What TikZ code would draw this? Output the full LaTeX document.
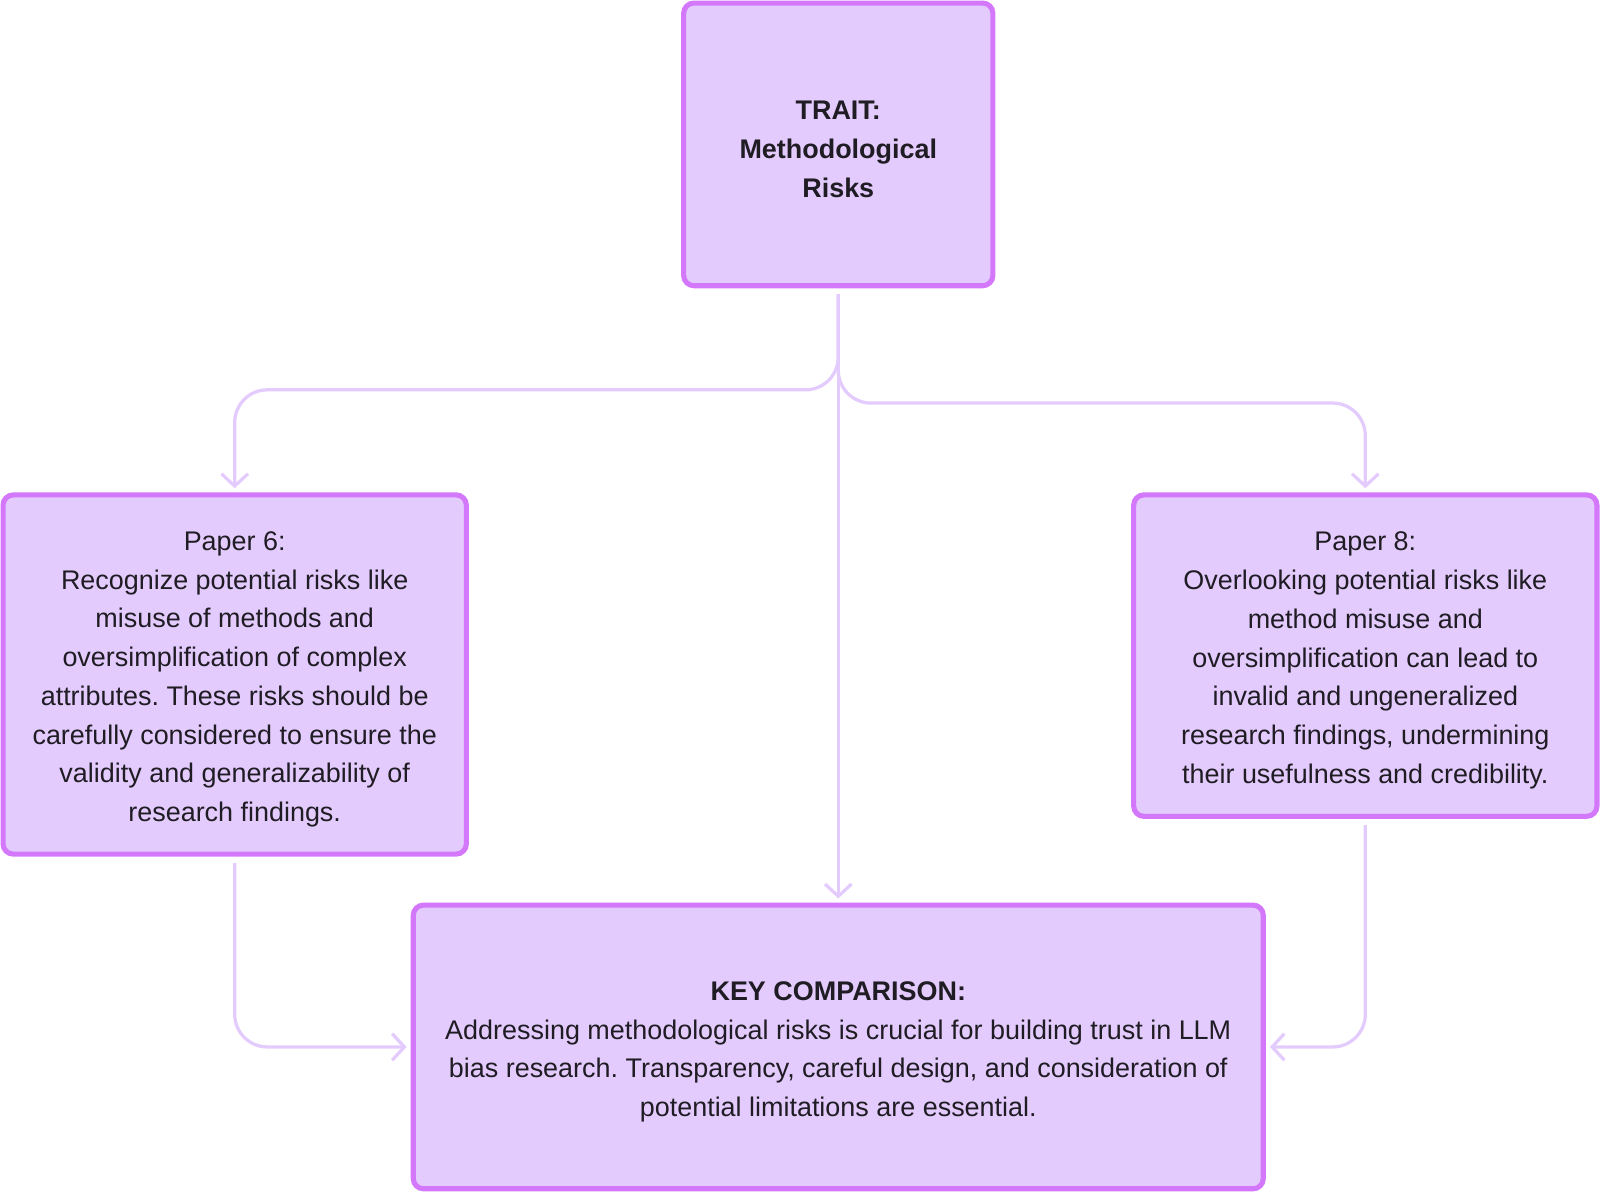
\documentclass[tikz,border=0pt]{standalone}
\usepackage{fontspec}
\setmainfont{Liberation Sans}
\frenchspacing
\usetikzlibrary{arrows.meta}
\definecolor{boxfill}{HTML}{E3CCFD}
\definecolor{boxline}{HTML}{D478FB}
\definecolor{connline}{HTML}{E3CCFD}
\definecolor{txt}{HTML}{201C24}
\newcommand{\topstrut}{\rule{0pt}{14pt}}
\tikzset{
  card/.style={draw=boxline, fill=boxfill, line width=2.5pt, rounded corners=5pt,
    align=center, text=txt, font=\fontsize{13.2}{19}\selectfont, inner sep=0pt},
  conn/.style={draw=connline, line width=1.6pt, rounded corners=16pt,
    -{Straight Barb[length=6pt,width=13pt,line width=1.6pt]}, shorten >=2pt, shorten <=3pt},
}
\begin{document}
\begin{tikzpicture}[x=0.5pt,y=-0.5pt]
\useasboundingbox (0,0) rectangle (1568,1168);
\node[card, minimum width=151.5pt, minimum height=138.5pt] (trait) at (821.5,141.5)
  {\topstrut\bfseries TRAIT:\\ \bfseries Methodological\\ \bfseries Risks};
\node[card, minimum width=227pt, minimum height=176pt] (p6) at (230,661)
  {\topstrut Paper 6:\\ Recognize potential risks like\\ misuse of methods and\\ oversimplification of complex\\ attributes. These risks should be\\ carefully considered to ensure the\\ validity and generalizability of\\ research findings.};
\node[card, minimum width=227pt, minimum height=157.5pt] (p8) at (1338,642.5)
  {\topstrut Paper 8:\\ Overlooking potential risks like\\ method misuse and\\ oversimplification can lead to\\ invalid and ungeneralized\\ research findings, undermining\\ their usefulness and credibility.};
\node[card, minimum width=416.5pt, minimum height=139pt] (key) at (821.5,1026)
  {\topstrut\bfseries KEY COMPARISON:\\ Addressing methodological risks is crucial for building trust in LLM\\ bias research. Transparency, careful design, and consideration of\\ potential limitations are essential.};
\draw[conn] (trait.south) -- (821.5,382) -| (p6.north);
\draw[conn] (trait.south) -- (821.5,395) -| (p8.north);
\draw[conn] (trait.south) -- (key.north);
\draw[conn] (p6.south) |- (key.west);
\draw[conn] (p8.south) |- (key.east);
\end{tikzpicture}
\end{document}
